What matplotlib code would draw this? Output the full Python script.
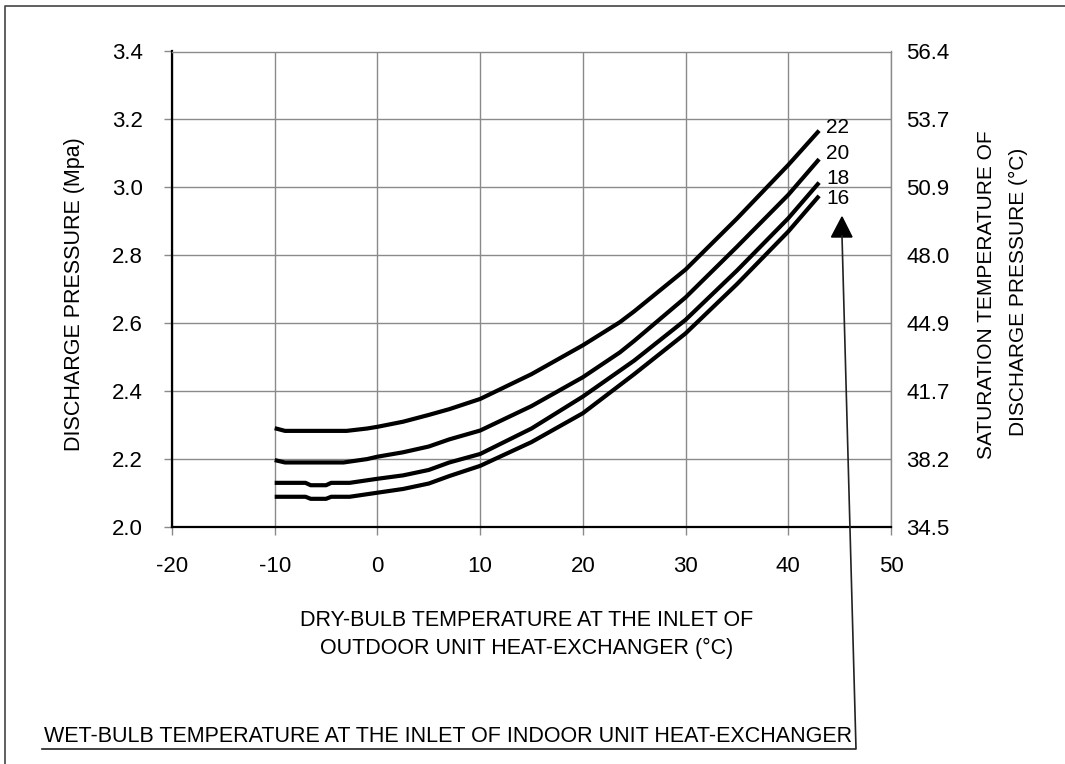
import matplotlib
matplotlib.use("Agg")
import matplotlib.pyplot as plt
from matplotlib.lines import Line2D
from matplotlib.patches import Polygon

plt.rcParams['font.family'] = ['Liberation Sans', 'DejaVu Sans']

# ---- data ----
x22 = [-10, -9, -3, -1, 0, 2.5, 5, 7, 10, 15, 20, 23.6, 25, 30, 35, 40, 43]
y22 = [2.291, 2.283, 2.283, 2.290, 2.295, 2.310, 2.330, 2.347, 2.377, 2.450, 2.535, 2.603, 2.635, 2.758, 2.908, 3.066, 3.167]

x20 = [-10, -9, -3.3, -1, 0, 2.5, 5, 7, 10, 15, 20, 23.6, 25, 30, 35, 40, 43]
y20 = [2.197, 2.190, 2.190, 2.200, 2.207, 2.220, 2.237, 2.258, 2.284, 2.356, 2.441, 2.514, 2.548, 2.676, 2.825, 2.978, 3.083]

x18 = [-10, -7, -6.5, -5, -4.5, -2.7, 0, 2.5, 5, 7, 10, 15, 20, 25, 30, 35, 40, 43]
y18 = [2.130, 2.130, 2.123, 2.123, 2.130, 2.130, 2.142, 2.152, 2.168, 2.190, 2.215, 2.290, 2.384, 2.490, 2.610, 2.755, 2.909, 3.014]

x16 = [-10, -7, -6.5, -5, -4.5, -2.7, 0, 2.5, 5, 7, 10, 15, 20, 25, 30, 35, 40, 43]
y16 = [2.089, 2.089, 2.083, 2.083, 2.089, 2.089, 2.101, 2.112, 2.128, 2.150, 2.180, 2.250, 2.335, 2.450, 2.570, 2.715, 2.870, 2.975]

series = [("22", x22, y22), ("20", x20, y20), ("18", x18, y18), ("16", x16, y16)]
label_y = {"22": 3.175, "20": 3.101, "18": 3.025, "16": 2.966}

x_ticks = [-20, -10, 0, 10, 20, 30, 40, 50]
y_ticks = [2.0, 2.2, 2.4, 2.6, 2.8, 3.0, 3.2, 3.4]
y_tick_labels = ["2.0", "2.2", "2.4", "2.6", "2.8", "3.0", "3.2", "3.4"]
right_tick_labels = ["34.5", "38.2", "41.7", "44.9", "48.0", "50.9", "53.7", "56.4"]

W, H = 1065, 764
fig = plt.figure(figsize=(W / 100, H / 100), dpi=100)
ax = fig.add_axes([172 / W, 1 - 527 / H, (891 - 172) / W, (527 - 51.5) / H])

grid_c = "#8a8a8a"
for name, xs, ys in series:
    ax.plot(xs, ys, color="black", lw=3.0, solid_capstyle="butt", zorder=3)
    ax.text(43.7, label_y[name], name, fontsize=15, ha="left", va="center", zorder=4)

ax.set_xlim(-20, 50)
ax.set_ylim(2.0, 3.4)
ax.set_xticks(x_ticks)
ax.set_xticklabels([str(t) for t in x_ticks])
ax.set_yticks(y_ticks)
ax.set_yticklabels(y_tick_labels)
ax.grid(True, color=grid_c, lw=1.0)
ax.tick_params(axis="both", direction="out", length=6, width=1, color=grid_c,
               labelsize=16)
ax.tick_params(axis="x", pad=15)
ax.tick_params(axis="y", pad=15)
for s in ["top", "right"]:
    ax.spines[s].set_color(grid_c)
    ax.spines[s].set_linewidth(1.0)
for s in ["left", "bottom"]:
    ax.spines[s].set_color("black")
    ax.spines[s].set_linewidth(1.6)

ax2 = ax.twinx()
ax2.set_ylim(2.0, 3.4)
ax2.set_yticks(y_ticks)
ax2.set_yticklabels(right_tick_labels)
ax2.tick_params(axis="y", length=0, labelsize=16, pad=11)
for s in ax2.spines.values():
    s.set_visible(False)

# axis labels
fs_lab = 15.5
fig.text(75 / W, 1 - 294 / H, "DISCHARGE PRESSURE (Mpa)", rotation=90,
         ha="center", va="center", fontsize=fs_lab)
fig.text(527 / W, 1 - 621 / H, "DRY-BULB TEMPERATURE AT THE INLET OF",
         ha="center", va="center", fontsize=fs_lab)
fig.text(527 / W, 1 - 648 / H, "OUTDOOR UNIT HEAT-EXCHANGER (°C)",
         ha="center", va="center", fontsize=fs_lab)
fig.text(986 / W, 1 - 295 / H, "SATURATION TEMPERATURE OF", rotation=90,
         ha="center", va="center", fontsize=15)
fig.text(1018 / W, 1 - 292 / H, "DISCHARGE PRESSURE (°C)", rotation=90,
         ha="center", va="center", fontsize=15)

# bottom annotation with underline and arrow
fig.text(44 / W, 1 - 737 / H, "WET-BULB TEMPERATURE AT THE INLET OF INDOOR UNIT HEAT-EXCHANGER",
         ha="left", va="center", fontsize=fs_lab)
def P(x, y):
    return (x / W, 1 - y / H)
xs_, ys_ = zip(P(42, 749), P(856, 749), P(842, 236))
fig.add_artist(Line2D(xs_, ys_, transform=fig.transFigure, color="#222222", lw=1.2))
fig.add_artist(Polygon([P(842, 217), P(831.5, 237), P(852, 237)], closed=True,
                       transform=fig.transFigure, facecolor="black", edgecolor="black"))

# figure border (top and left)
fig.add_artist(Line2D([5 / W, 5 / W, 1.0], [0.0, 1 - 5.5 / H, 1 - 5.5 / H],
                      transform=fig.transFigure, color="#444444", lw=1.2))

fig.savefig("out.png", dpi=100, facecolor="white")
